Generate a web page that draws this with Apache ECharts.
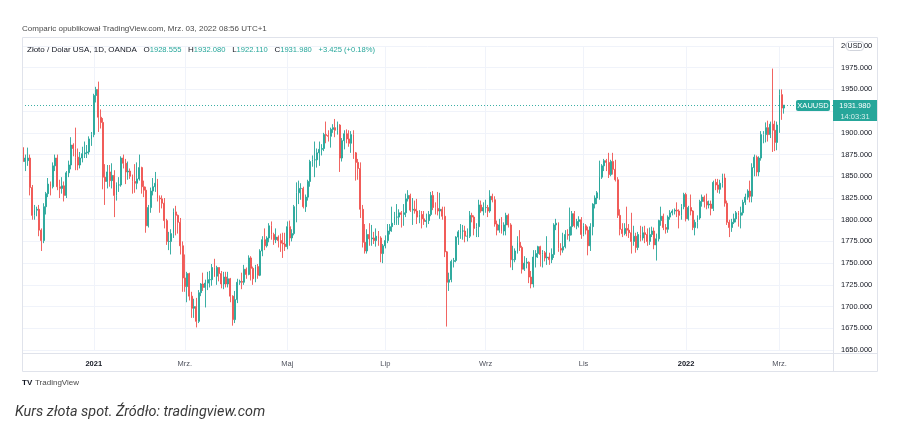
<!DOCTYPE html>
<html>
<head>
<meta charset="utf-8">
<script src="https://cdn.jsdelivr.net/npm/echarts@6/dist/echarts.min.js"></script>
<style>
  html, body { margin: 0; padding: 0; background: #fff; }
  #chart { width: 902px; height: 440px; }
</style>
</head>
<body>
<div id="chart"></div>
<script>
// daily candles, each [open, close, low, high]
const nov2020 = [[1883,1867,1855,1887],[1867,1871,1856,1875],[1868,1871,1862,1883],[1871,1837,1828,1875],[1837,1805,1800,1840],[1805,1811,1800,1817],[1811,1812,1804,1815],[1812,1788,1781,1817],[1788,1776,1764,1790]]
const dec2020 = [[1776,1815,1773,1819],[1815,1830,1806,1832],[1830,1841,1826,1848],[1841,1838,1828,1844],[1838,1862,1836,1866],[1862,1871,1856,1875],[1871,1838,1834,1875],[1838,1836,1825,1846],[1836,1839,1830,1849],[1839,1828,1821,1844],[1828,1854,1825,1856],[1854,1863,1849,1868],[1863,1886,1858,1895],[1886,1882,1873,1888],[1882,1872,1857,1906],[1872,1863,1857,1882],[1863,1871,1859,1878],[1871,1876,1866,1884],[1876,1877,1871,1890],[1877,1878,1871,1886],[1878,1893,1875,1896],[1893,1898,1885,1901]]
const jan2021 = [[1898,1943,1895,1945],[1943,1950,1935,1953],[1950,1918,1901,1959],[1918,1912,1905,1927],[1912,1849,1835,1917],[1849,1844,1817,1864],[1844,1855,1836,1863],[1855,1845,1838,1863],[1845,1851,1836,1865],[1851,1828,1803,1857],[1828,1840,1822,1843],[1840,1840,1832,1849],[1840,1871,1838,1873],[1871,1865,1859,1875],[1865,1855,1841,1870],[1855,1856,1846,1867],[1856,1850,1847,1859],[1850,1844,1830,1852],[1844,1842,1831,1864],[1842,1847,1835,1866]]
const feb2021 = [[1847,1860,1845,1875],[1860,1838,1830,1861],[1838,1834,1826,1845],[1834,1793,1785,1838],[1793,1814,1791,1817],[1814,1833,1808,1837],[1833,1838,1828,1848],[1838,1842,1832,1855],[1842,1825,1821,1847],[1825,1824,1808,1828],[1824,1819,1813,1828],[1819,1799,1790,1825],[1799,1775,1771,1801],[1775,1775,1765,1786],[1775,1784,1760,1789],[1784,1809,1779,1813],[1809,1805,1782,1816],[1805,1797,1784,1806],[1797,1770,1760,1802],[1770,1733,1717,1775]]
const mar2021 = [[1733,1723,1717,1760],[1723,1738,1705,1740],[1738,1712,1707,1739],[1712,1698,1687,1717],[1698,1700,1687,1709],[1700,1683,1676,1710],[1683,1716,1681,1719],[1716,1726,1712,1727],[1726,1722,1718,1739],[1722,1727,1699,1731],[1727,1731,1719,1740],[1731,1731,1722,1741],[1731,1745,1724,1749],[1745,1735,1734,1755],[1735,1745,1725,1747],[1745,1738,1729,1745],[1738,1726,1721,1741],[1726,1734,1720,1740],[1734,1726,1722,1740],[1726,1732,1722,1740],[1732,1712,1705,1733],[1712,1685,1678,1713],[1685,1708,1681,1718]]
const apr2021 = [[1708,1728,1704,1732],[1728,1729,1725,1731],[1729,1728,1720,1739],[1728,1743,1725,1748],[1743,1737,1732,1745],[1737,1756,1736,1759],[1756,1744,1730,1758],[1744,1732,1725,1746],[1732,1746,1728,1748],[1746,1736,1732,1749],[1736,1764,1735,1766],[1764,1777,1758,1781],[1777,1770,1765,1790],[1770,1779,1768,1781],[1779,1793,1774,1796],[1793,1783,1777,1798],[1783,1777,1771,1785],[1777,1780,1773,1790],[1780,1776,1768,1782],[1776,1773,1763,1784],[1773,1772,1756,1785],[1772,1769,1764,1785]]
const may2021 = [[1769,1792,1766,1798],[1792,1779,1770,1799],[1779,1784,1775,1789],[1784,1815,1782,1817],[1815,1831,1797,1843],[1831,1836,1818,1845],[1836,1836,1823,1842],[1836,1815,1813,1838],[1815,1826,1809,1829],[1826,1844,1822,1846],[1844,1867,1838,1869],[1867,1869,1861,1874],[1869,1869,1849,1890],[1869,1877,1860,1882],[1877,1881,1862,1890],[1881,1882,1874,1887],[1882,1898,1879,1900],[1898,1897,1888,1913],[1897,1896,1890,1903],[1896,1904,1883,1906],[1904,1906,1900,1910]]
const jun2021 = [[1906,1903,1895,1916],[1903,1909,1898,1913],[1909,1871,1855,1910],[1871,1891,1867,1894],[1891,1899,1881,1903],[1899,1893,1888,1904],[1893,1888,1884,1903],[1888,1898,1877,1902],[1898,1877,1870,1903],[1877,1866,1845,1878],[1866,1859,1846,1870],[1859,1812,1802,1866],[1812,1774,1768,1817],[1774,1764,1761,1795],[1764,1783,1761,1789],[1783,1778,1770,1796],[1778,1779,1770,1794],[1779,1776,1772,1786],[1776,1781,1769,1790],[1781,1779,1770,1787],[1779,1761,1751,1781],[1761,1770,1750,1772]]
const jul2021 = [[1770,1776,1767,1782],[1776,1787,1773,1795],[1787,1792,1783,1795],[1792,1796,1786,1815],[1796,1803,1794,1809],[1803,1803,1794,1818],[1803,1808,1794,1812],[1808,1806,1791,1810],[1806,1808,1793,1818],[1808,1824,1803,1830],[1824,1828,1821,1834],[1828,1811,1809,1830],[1811,1812,1794,1825],[1812,1810,1807,1822],[1810,1803,1795,1824],[1803,1806,1796,1811],[1806,1801,1790,1810],[1801,1798,1794,1810],[1798,1799,1791,1807],[1799,1806,1795,1810],[1806,1828,1804,1832],[1828,1814,1811,1833]]
const aug2021 = [[1814,1813,1806,1820],[1813,1810,1805,1832],[1810,1812,1801,1831],[1812,1804,1800,1815],[1804,1763,1757,1815],[1763,1728,1677,1764],[1728,1731,1718,1739],[1731,1752,1728,1754],[1752,1753,1745,1756],[1753,1780,1751,1781],[1780,1786,1771,1788],[1786,1787,1778,1795],[1787,1787,1777,1794],[1787,1781,1774,1793],[1781,1781,1775,1790],[1781,1805,1779,1810],[1805,1803,1797,1808],[1803,1790,1782,1805],[1790,1792,1780,1796],[1792,1817,1780,1823],[1817,1810,1808,1822],[1810,1814,1805,1820]]
const sep2021 = [[1814,1814,1808,1823],[1814,1810,1803,1817],[1810,1827,1808,1834],[1827,1823,1820,1830],[1823,1795,1792,1827],[1795,1788,1782,1799],[1788,1794,1785,1801],[1794,1787,1784,1803],[1787,1794,1782,1797],[1794,1805,1782,1808],[1805,1794,1791,1807],[1794,1754,1745,1796],[1754,1754,1742,1770],[1754,1764,1751,1767],[1764,1774,1761,1781],[1774,1768,1764,1788],[1768,1743,1738,1770],[1743,1750,1741,1758],[1750,1751,1744,1756],[1751,1734,1727,1752],[1734,1726,1721,1741],[1726,1757,1722,1765]]
const oct2021 = [[1757,1761,1745,1765],[1761,1769,1756,1770],[1769,1760,1746,1770],[1760,1762,1745,1765],[1762,1756,1752,1764],[1756,1757,1748,1781],[1757,1754,1748,1762],[1754,1760,1750,1767],[1760,1794,1756,1796],[1794,1796,1788,1801],[1796,1767,1763,1797],[1767,1765,1759,1773],[1765,1769,1762,1785],[1769,1783,1767,1788],[1783,1782,1777,1789],[1782,1792,1775,1814],[1792,1807,1782,1810],[1807,1793,1791,1810],[1793,1798,1789,1801],[1798,1800,1791,1804],[1800,1783,1778,1803]]
const nov2021 = [[1783,1793,1781,1796],[1793,1788,1783,1795],[1788,1770,1759,1792],[1770,1792,1764,1796],[1792,1818,1782,1819],[1818,1825,1813,1828],[1825,1831,1818,1833],[1831,1849,1823,1868],[1849,1862,1847,1864],[1862,1868,1856,1870],[1868,1866,1856,1870],[1866,1852,1848,1877],[1852,1867,1850,1869],[1867,1858,1852,1877],[1858,1846,1844,1869],[1846,1805,1802,1849],[1805,1789,1782,1812],[1789,1784,1780,1796],[1784,1790,1782,1796],[1790,1788,1781,1815],[1788,1785,1779,1795],[1785,1775,1761,1808]]
const dec2021 = [[1775,1781,1770,1793],[1781,1768,1762,1785],[1768,1783,1765,1786],[1783,1779,1775,1793],[1779,1785,1776,1792],[1785,1783,1773,1793],[1783,1775,1770,1790],[1775,1783,1771,1791],[1783,1787,1780,1792],[1787,1771,1766,1791],[1771,1778,1753,1784],[1778,1799,1775,1800],[1799,1804,1793,1815],[1804,1791,1788,1807],[1791,1789,1784,1795],[1789,1803,1785,1805],[1803,1808,1800,1811],[1808,1810,1805,1812],[1810,1811,1806,1813],[1811,1810,1803,1820],[1810,1805,1790,1812],[1805,1815,1800,1818],[1815,1829,1812,1831]]
const jan2022 = [[1829,1801,1798,1831],[1801,1814,1799,1816],[1814,1810,1805,1829],[1810,1791,1788,1811],[1791,1797,1782,1800],[1797,1802,1790,1805],[1802,1821,1800,1823],[1821,1826,1815,1829],[1826,1821,1814,1828],[1821,1817,1812,1830],[1817,1818,1813,1822],[1818,1813,1805,1822],[1813,1843,1810,1845],[1843,1840,1834,1847],[1840,1835,1831,1847],[1835,1842,1830,1846],[1842,1848,1837,1853],[1848,1819,1815,1853],[1819,1797,1794,1822],[1797,1791,1780,1800],[1791,1797,1786,1801]]
const feb2022 = [[1797,1801,1795,1807],[1801,1808,1797,1810],[1808,1805,1792,1810],[1805,1808,1790,1815],[1808,1820,1805,1823],[1820,1826,1817,1830],[1826,1833,1823,1835],[1833,1827,1820,1845],[1827,1860,1820,1865],[1860,1872,1850,1875],[1872,1855,1850,1874],[1855,1871,1850,1873],[1871,1898,1868,1902],[1898,1898,1888,1902],[1898,1906,1889,1912],[1906,1898,1890,1914],[1898,1910,1894,1913],[1910,1903,1878,1974],[1903,1889,1879,1914],[1889,1909,1880,1913]]
const mar2022 = [[1909,1944,1900,1950],[1944,1928.555,1915,1950],[1928.555,1931.98,1922.11,1932.08]]

const firstDay = '2020-11-18'
const holidays = ['2020-12-25', '2021-01-01']
const emptySlots = 21
const tickDates = ['2021-01-04', '2021-03-01', '2021-05-03', '2021-07-01', '2021-09-01', '2021-11-01', '2022-01-03', '2022-03-01']
const tickLabels = ['2021', 'Mrz.', 'Maj', 'Lip', 'Wrz', 'Lis', '2022', 'Mrz.']
const yearLabels = ['2021', '2022']

const candles = [].concat(nov2020, dec2020, jan2021, feb2021, mar2021, apr2021, may2021,
  jun2021, jul2021, aug2021, sep2021, oct2021, nov2021, dec2021, jan2022, feb2022, mar2022)

// trading days (weekdays without the holidays), plus empty slots on the right
const dates = []
const d = new Date(firstDay + 'T00:00:00Z')
while (dates.length < candles.length + emptySlots) {
  const iso = d.toISOString().slice(0, 10)
  const wd = d.getUTCDay()
  if (wd !== 0 && wd !== 6 && holidays.indexOf(iso) < 0) dates.push(iso)
  d.setUTCDate(d.getUTCDate() + 1)
}

const UP = '#26a69a'
const DOWN = '#ef5350'
const FONT = 'Liberation Sans, Arial, sans-serif'

const last = candles[candles.length - 1]
const prevClose = candles[candles.length - 2][1]
const change = last[1] - prevClose

const chart = echarts.init(document.getElementById('chart'))

chart.setOption({
  animation: false,
  backgroundColor: '#fff',
  grid: {
    left: 22,
    right: 69,
    top: 46,
    bottom: 90,
    containLabel: false,
    outerBoundsMode: 'none'
  },
  xAxis: {
    type: 'category',
    data: dates,
    boundaryGap: true,
    axisLine: { show: false },
    axisTick: { show: false },
    splitLine: { show: false },
    axisLabel: {
      margin: 9.5,
      fontFamily: FONT,
      fontSize: 7.5,
      color: '#50535e',
      interval: (idx, val) => tickDates.indexOf(val) >= 0,
      formatter: val => {
        const label = tickLabels[tickDates.indexOf(val)]
        return yearLabels.indexOf(label) >= 0 ? '{y|' + label + '}' : label
      },
      rich: {
        y: { fontFamily: FONT, fontSize: 7.5, fontWeight: 'bold', color: '#131722' }
      }
    }
  },
  yAxis: {
    type: 'value',
    position: 'right',
    min: 1650,
    max: 2000,
    interval: 25,
    axisLine: { show: false },
    axisTick: { show: false },
    splitLine: { lineStyle: { color: '#f0f3fa', width: 1 } },
    axisLabel: {
      margin: 8,
      fontFamily: FONT,
      fontSize: 7.5,
      color: '#131722',
      formatter: v => v.toFixed(3)
    }
  },
  series: [{
    type: 'candlestick',
    data: candles,
    barWidth: 1.4,
    itemStyle: {
      color: UP,
      color0: DOWN,
      borderColor: UP,
      borderColor0: DOWN,
      borderWidth: 0.9
    },
    markLine: {
      silent: true,
      symbol: 'none',
      label: { show: false },
      z: 1,
      data: tickDates.map(t => ({
        xAxis: t,
        lineStyle: { color: '#f0f3fa', type: 'solid', width: 1 }
      })).concat([{
        yAxis: last[1],
        lineStyle: { color: UP, type: [1, 2], width: 1, opacity: 0.9 }
      }])
    }
  }]
})

const py = chart.convertToPixel({ yAxisIndex: 0 }, last[1])

chart.setOption({
  graphic: [
    // chart frame
    { type: 'rect', silent: true, z: 100, shape: { x: 22.5, y: 37.5, width: 855, height: 334 }, style: { fill: 'none', stroke: '#e0e3eb', lineWidth: 1 } },
    { type: 'line', silent: true, z: 100, shape: { x1: 833.5, y1: 37.5, x2: 833.5, y2: 371.5 }, style: { stroke: '#e0e3eb', lineWidth: 1 } },
    { type: 'line', silent: true, z: 100, shape: { x1: 22.5, y1: 353.5, x2: 877.5, y2: 353.5 }, style: { stroke: '#e0e3eb', lineWidth: 1 } },
    // header
    { type: 'text', z: 100, left: 22, top: 25, style: { text: 'Comparic opublikował TradingView.com, Mrz. 03, 2022 08:56 UTC+1', font: '8px ' + FONT, fill: '#4a4a4a' } },
    {
      type: 'text', z: 100, left: 27, top: 44,
      style: {
        text: '{t|Złoto / Dolar USA, 1D, OANDA}  {t|O}{v|' + last[0].toFixed(3) + '}  {t|H}{v|' + last[3].toFixed(3) +
          '}  {t|L}{v|' + last[2].toFixed(3) + '}  {t|C}{v|' + last[1].toFixed(3) + '}  {v|+' + change.toFixed(3) +
          ' (+' + (change / prevClose * 100).toFixed(2) + '%)}',
        rich: {
          t: { font: '8px ' + FONT, fill: '#131722' },
          v: { font: '7.6px ' + FONT, fill: UP }
        }
      }
    },
    // USD badge on the price scale
    { type: 'rect', z: 110, shape: { x: 846.5, y: 41.5, width: 17, height: 9, r: 3 }, style: { fill: '#fff', stroke: '#d1d4dc', lineWidth: 1 } },
    { type: 'text', z: 111, x: 855, y: 46, style: { text: 'USD', font: '7px ' + FONT, fill: '#131722', align: 'center', verticalAlign: 'middle' } },
    // last price labels
    { type: 'rect', z: 110, shape: { x: 796, y: py - 5, width: 34, height: 11, r: 2 }, style: { fill: UP } },
    { type: 'text', z: 111, x: 813, y: py + 0.5, style: { text: 'XAUUSD', font: '7.5px ' + FONT, fill: '#fff', align: 'center', verticalAlign: 'middle' } },
    { type: 'rect', z: 110, shape: { x: 833, y: py - 5, width: 44, height: 21 }, style: { fill: UP } },
    { type: 'text', z: 111, x: 855, y: py + 1, style: { text: last[1].toFixed(3), font: '7.5px ' + FONT, fill: '#fff', align: 'center', verticalAlign: 'middle' } },
    { type: 'text', z: 111, x: 855, y: py + 11.5, style: { text: '14:03:31', font: '7.5px ' + FONT, fill: 'rgba(255,255,255,0.8)', align: 'center', verticalAlign: 'middle' } },
    // footer
    { type: 'text', z: 100, left: 22, top: 379, style: { text: 'TV', font: 'bold 8px ' + FONT, fill: '#131722' } },
    { type: 'text', z: 100, left: 35, top: 379, style: { text: 'TradingView', font: '8px ' + FONT, fill: '#4a4a4a' } },
    { type: 'text', z: 100, left: 15, top: 405, style: { text: 'Kurs złota spot. Źródło: tradingview.com', font: 'italic 14.4px Roboto, sans-serif', fill: '#3a3a3a' } }
  ]
})
</script>
</body>
</html>
